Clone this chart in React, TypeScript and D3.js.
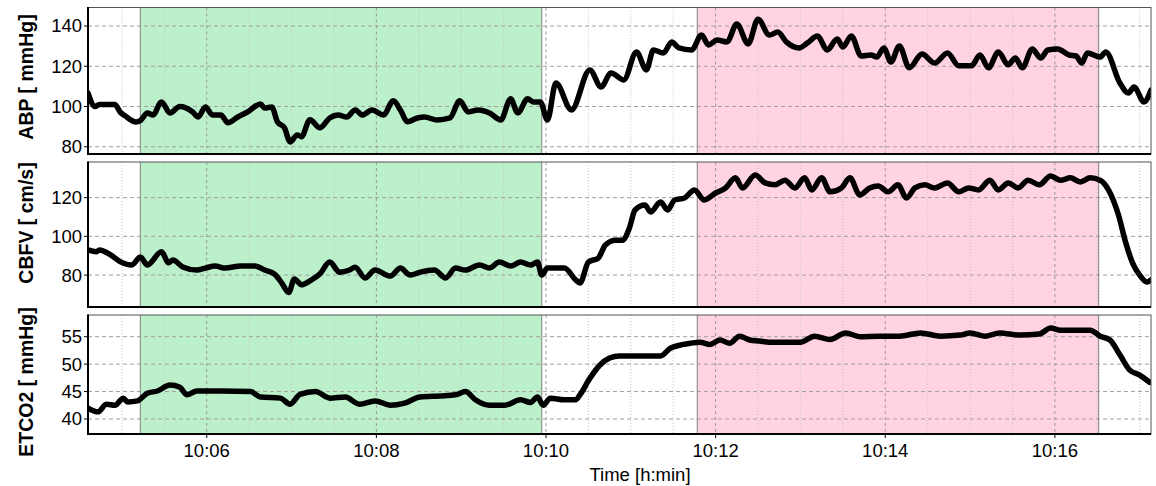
import React from "react";
import * as d3 from "d3";

const W = 1156;
const H = 486;

// Samples: [seconds after 10:00:00, value]
const abpSeries: [number, number][] = [
  [276, 106.7], [281, 100], [284, 101], [295, 101], [299, 97], [302, 95.5], [310, 92.3], [313, 93],
  [318, 96.8], [322, 95.8], [328, 102.3], [334, 96.8], [341, 100], [350, 97.3], [354, 94.8], [359, 99.8],
  [364, 95.8], [370, 95.8], [375, 91.9], [382, 94.8], [389, 97.3], [398, 101.3], [401, 99.2], [406, 99.8],
  [410, 92.4], [415, 89.4], [419, 82.4], [424, 85.9], [427, 85], [433, 93.4], [440, 89.4], [447, 94.3],
  [453, 95.8], [459, 94.8], [465, 98.3], [470, 95.8], [477, 98.3], [485, 95.8], [492, 102.8], [497, 98.3],
  [502, 92.4], [509, 94.3], [514, 94.8], [523, 93.3], [532, 94.3], [539, 102.8], [545, 97.3], [552, 98.3],
  [560, 96.8], [568, 93.3], [575, 103.8], [580, 96.8], [587, 103.8], [591, 102.3], [596, 102.3], [601, 93.3],
  [607, 111.7], [618, 98.3], [631, 118.2], [639, 109.7], [646, 116.7], [655, 113.2], [664, 127.1], [671, 118.2],
  [676, 128.1], [683, 126.6], [689, 132.1], [694, 129.1], [703, 128.1], [710, 135.5], [715, 130.6], [721, 133],
  [728, 132.1], [735, 141], [743, 131.1], [750, 143.4], [758, 135.5], [764, 137], [770, 132.1], [779, 129.1],
  [785, 131.6], [792, 135], [799, 128.1], [806, 133.5], [810, 129.6], [816, 135], [823, 125.1], [830, 125.6],
  [834, 124.6], [839, 129.1], [844, 122.1], [850, 130.1], [857, 119.2], [866, 126.1], [875, 121.6], [884, 126.6],
  [892, 120.2], [901, 120.2], [907, 125.6], [913, 119.2], [920, 127.1], [927, 120.7], [932, 124.1], [937, 119.2],
  [944, 128.6], [950, 124.1], [955, 128.1], [962, 128.6], [970, 125.6], [975, 125.1], [979, 121.6], [983, 126.6],
  [992, 124.6], [996, 127.1], [1006, 111.7], [1012, 106.7], [1016, 109.7], [1023, 102.3], [1028, 108.2],
];

const cbfvSeries: [number, number][] = [
  [276, 93], [282, 92], [284, 93], [292, 90.4], [299, 86.8], [307, 85.2], [313, 89.3], [318, 85.2],
  [328, 92], [333, 86.3], [336, 87.8], [343, 84.2], [353, 82.6], [359, 83.6], [366, 84.7], [373, 83.6],
  [384, 84.7], [394, 84.7], [401, 82.6], [408, 80.5], [413, 76], [418, 71], [422, 78], [427, 75],
  [433, 77], [440, 80.5], [447, 86.7], [454, 81.5], [461, 82.6], [465, 84], [472, 78.5], [479, 82.6],
  [490, 79.5], [497, 83.6], [504, 80], [511, 81.5], [521, 82.6], [529, 78.5], [536, 83.6], [543, 82.6],
  [553, 85.2], [560, 83.6], [567, 86.7], [575, 84.7], [582, 86.7], [589, 85.2], [594, 86.7], [597, 80],
  [601, 83.6], [606, 83.6], [613, 83.6], [621, 77.5], [624, 75.9], [630, 86.7], [637, 88.8], [642, 95.5],
  [649, 98], [654, 98], [659, 104.3], [663, 113.6], [670, 116.2], [674, 112.6], [681, 117.8], [686, 113.6],
  [691, 118.8], [698, 119.8], [705, 124], [712, 118.8], [720, 122.4], [727, 125], [734, 130.2], [739, 125],
  [748, 131.7], [755, 127.6], [762, 126.6], [769, 129], [776, 125], [783, 130.2], [788, 124], [795, 130.2],
  [801, 123], [809, 125], [815, 130.2], [822, 121.4], [829, 125], [835, 126], [842, 123], [849, 126.6],
  [855, 119.8], [861, 125], [868, 126.6], [875, 125], [884, 127.6], [892, 123], [899, 125], [906, 124],
  [914, 129], [920, 124], [927, 127.6], [934, 125], [941, 129], [949, 126.6], [957, 131.2], [964, 129],
  [971, 130.2], [978, 128.1], [985, 130.2], [992, 129], [998, 123.9], [1005, 111], [1010, 97], [1015, 86.2],
  [1020, 80], [1025, 76.4], [1028, 77.5],
];

const etco2Series: [number, number][] = [
  [276, 42.0], [283, 41.3], [289, 42.7], [295, 42.5], [301, 43.8], [304, 43.1], [311, 43.3], [318, 44.7],
  [325, 45.1], [334, 46.2], [341, 45.8], [346, 44.4], [353, 45.1], [370, 45.1], [391, 45], [398, 44],
  [412, 43.8], [419, 42.7], [426, 44.5], [437, 45], [447, 43.8], [458, 44], [468, 42.7], [479, 43.3],
  [490, 42.5], [500, 42.9], [511, 44], [525, 44.2], [536, 44.4], [543, 45], [550, 43.5], [560, 42.5],
  [571, 42.5], [582, 43.5], [589, 43], [594, 44], [598, 42.5], [603, 43.8], [613, 43.5], [621, 43.5],
  [624, 44.4], [631, 47.4], [638, 49.8], [645, 51.1], [652, 51.5], [666, 51.5], [681, 51.5], [688, 52.9],
  [702, 53.8], [709, 54], [716, 53.6], [723, 54.4], [730, 53.8], [737, 55.1], [744, 54.4], [751, 54.2],
  [758, 54], [780, 54], [790, 55.1], [801, 54.5], [812, 55.7], [822, 55], [836, 55.1], [850, 55.1],
  [865, 55.7], [879, 55.1], [893, 55.3], [900, 55.7], [911, 55.1], [921, 55.7], [935, 55.3], [949, 55.5],
  [957, 56.6], [964, 56.2], [974, 56.2], [985, 56.2], [992, 55.1], [999, 54.4], [1006, 51.7], [1013, 48.9],
  [1020, 48], [1027, 46.7],
];

// Time axis (seconds after 10:00:00)
const timeDomain: [number, number] = [276, 1028];
const timeTicks = [360, 480, 600, 720, 840, 960];
const timeTickLabels = ["10:06", "10:08", "10:10", "10:12", "10:14", "10:16"];
const gridStep = 30;

// Protocol phases (seconds after 10:00:00)
const phaseStarts = [313, 707];
const phaseEnds = [597, 991];
const phaseColors = ["#bbf0cb", "#ffd3df"];

const abpTicks = [80, 100, 120, 140];
const cbfvTicks = [80, 100, 120];
const etco2Ticks = [40, 45, 50, 55];

const left = 88;
const right = 1151;

interface Panel {
  id: string;
  label: string;
  data: [number, number][];
  domain: [number, number];
  ticks: number[];
  top: number;
  bottom: number;
  labelCenter: number;
}

const panels: Panel[] = [
  { id: "abp", label: "ABP [ mmHg]", data: abpSeries, domain: [76.4, 149.2], ticks: abpTicks, top: 7.5, bottom: 154, labelCenter: 77 },
  { id: "cbfv", label: "CBFV [ cm/s]", data: cbfvSeries, domain: [63.5, 138.4], ticks: cbfvTicks, top: 162, bottom: 307, labelCenter: 223 },
  { id: "etco2", label: "ETCO2 [ mmHg]", data: etco2Series, domain: [37.26, 58.96], ticks: etco2Ticks, top: 315, bottom: 434, labelCenter: 382 },
];

const FONT = "Arial, 'Liberation Sans', Helvetica, sans-serif";

function PanelView({ p, x }: { p: Panel; x: d3.ScaleLinear<number, number> }) {
  const y = d3.scaleLinear().domain(p.domain).range([p.bottom, p.top]);
  const line = d3
    .line<[number, number]>()
    .x((d) => x(d[0]))
    .y((d) => y(d[1]))
    .curve(d3.curveMonotoneX);
  const grid = d3.range(300, timeDomain[1], gridStep);
  const clipId = `clip-${p.id}`;
  return (
    <g>
      <defs>
        <clipPath id={clipId}>
          <rect x={left} y={p.top} width={right - left} height={p.bottom - p.top} />
        </clipPath>
      </defs>
      <rect x={left} y={p.top} width={right - left} height={p.bottom - p.top} fill="#fff" />
      {phaseStarts.map((s, i) => (
        <rect key={i} x={x(s)} y={p.top} width={x(phaseEnds[i]) - x(s)} height={p.bottom - p.top} fill={phaseColors[i]} />
      ))}
      {grid.map((t) => {
        const major = timeTicks.includes(t);
        return (
          <line
            key={t}
            x1={x(t)}
            x2={x(t)}
            y1={p.top}
            y2={p.bottom}
            stroke={major ? "#9a9a9a" : "#c4c4c4"}
            strokeWidth={1}
            strokeDasharray={major ? "3,3" : "1,2"}
          />
        );
      })}
      {p.ticks.map((v) => (
        <line key={v} x1={left} x2={right} y1={y(v)} y2={y(v)} stroke="#a0a0a0" strokeWidth={1} strokeDasharray="4,3" />
      ))}
      {phaseStarts.map((s, i) => (
        <g key={i}>
          <line x1={x(s)} x2={x(s)} y1={p.top} y2={p.bottom} stroke="#808080" strokeWidth={1} />
          <line x1={x(phaseEnds[i])} x2={x(phaseEnds[i])} y1={p.top} y2={p.bottom} stroke="#808080" strokeWidth={1} />
        </g>
      ))}
      <path
        d={line(p.data) || ""}
        fill="none"
        stroke="#000"
        strokeWidth={5.5}
        strokeLinejoin="round"
        strokeLinecap="round"
        clipPath={`url(#${clipId})`}
      />
      <rect x={left} y={p.top} width={right - left} height={p.bottom - p.top} fill="none" stroke="#555" strokeWidth={1} />
      <line x1={left} x2={left} y1={p.top - 0.5} y2={p.bottom + 1} stroke="#000" strokeWidth={2} />
      <line x1={left - 1} x2={right} y1={p.bottom} y2={p.bottom} stroke="#000" strokeWidth={2} />
      {p.ticks.map((v) => (
        <g key={v}>
          <line x1={left - 4} x2={left} y1={y(v)} y2={y(v)} stroke="#000" strokeWidth={1} />
          <text x={left - 6} y={y(v)} dy="0.35em" textAnchor="end" fontSize={18.5} fill="#000">
            {v}
          </text>
        </g>
      ))}
      <text
        transform={`translate(32.5, ${p.labelCenter}) rotate(-90)`}
        textAnchor="middle"
        fontSize={19.5}
        fontWeight="bold"
        fill="#000"
      >
        {p.label}
      </text>
    </g>
  );
}

export default function App() {
  const x = d3.scaleLinear().domain(timeDomain).range([left, right]);
  const last = panels[panels.length - 1];
  return (
    <svg
      width={W}
      height={H}
      style={{ position: "absolute", left: 0, top: 0, background: "#fff" }}
      fontFamily={FONT}
    >
      <rect width={W} height={H} fill="#fff" />
      {panels.map((p) => (
        <PanelView key={p.id} p={p} x={x} />
      ))}
      {timeTicks.map((t, i) => (
        <g key={t}>
          <line x1={x(t)} x2={x(t)} y1={last.bottom} y2={last.bottom + 4} stroke="#000" strokeWidth={1} />
          <text x={x(t)} y={457} textAnchor="middle" fontSize={18.5} fill="#000">
            {timeTickLabels[i]}
          </text>
        </g>
      ))}
      <text x={640} y={481} textAnchor="middle" fontSize={18.5} fill="#000">
        Time [h:min]
      </text>
    </svg>
  );
}
